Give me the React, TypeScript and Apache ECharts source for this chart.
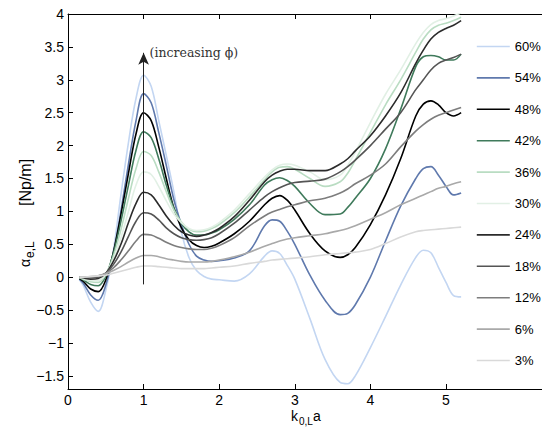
import React, { useEffect, useRef } from 'react';
import * as echarts from 'echarts';

// k_{0,L} a sample points
const kGrid = [0.15, 0.2, 0.3, 0.4, 0.5, 0.6, 0.7, 0.8, 0.9, 1.0, 1.1, 1.2, 1.3, 1.4, 1.5, 1.6, 1.7, 1.8, 1.9, 2.0, 2.2, 2.4, 2.6, 2.7, 2.8, 2.9, 3.0, 3.2, 3.4, 3.6, 3.7, 3.8, 4.0, 4.2, 4.4, 4.6, 4.7, 4.8, 4.9, 5.0, 5.1, 5.2];

const phiLabels = ['60%', '54%', '48%', '42%', '36%', '30%', '24%', '18%', '12%', '6%', '3%'];

const alpha60 = [-0.04, -0.12, -0.38, -0.52, -0.2, 0.4, 1.25, 2.05, 2.72, 3.07, 2.9, 2.38, 1.85, 1.3, 0.68, 0.3, 0.1, 0.01, -0.03, -0.04, -0.06, 0.05, 0.32, 0.4, 0.36, 0.18, -0.03, -0.63, -1.25, -1.6, -1.62, -1.5, -1.07, -0.6, -0.12, 0.3, 0.41, 0.37, 0.15, -0.08, -0.28, -0.3];
const alpha54 = [-0.03, -0.09, -0.27, -0.35, -0.12, 0.35, 1.0, 1.72, 2.38, 2.79, 2.65, 2.2, 1.7, 1.18, 0.8, 0.5, 0.32, 0.26, 0.24, 0.25, 0.29, 0.4, 0.78, 0.87, 0.85, 0.7, 0.5, 0.03, -0.35, -0.57, -0.55, -0.42, 0.0, 0.55, 1.08, 1.5, 1.65, 1.68, 1.55, 1.38, 1.25, 1.28];
const alpha48 = [-0.02, -0.06, -0.18, -0.22, -0.04, 0.38, 0.95, 1.58, 2.18, 2.5, 2.38, 1.98, 1.5, 1.05, 0.75, 0.57, 0.48, 0.45, 0.47, 0.52, 0.66, 0.85, 1.1, 1.2, 1.24, 1.17, 1.02, 0.66, 0.4, 0.3, 0.34, 0.45, 0.8, 1.25, 1.8, 2.45, 2.63, 2.68, 2.62, 2.5, 2.45, 2.5];
const alpha42 = [-0.01, -0.04, -0.11, -0.13, 0.02, 0.36, 0.85, 1.4, 1.93, 2.21, 2.12, 1.8, 1.4, 1.05, 0.82, 0.69, 0.64, 0.64, 0.67, 0.72, 0.88, 1.1, 1.4, 1.48, 1.51, 1.47, 1.38, 1.12, 0.95, 0.96, 1.06, 1.2, 1.5, 1.95, 2.55, 3.2, 3.35, 3.37, 3.35, 3.3, 3.3, 3.39];
const alpha36 = [-0.01, -0.03, -0.07, -0.08, 0.04, 0.32, 0.72, 1.2, 1.65, 1.91, 1.85, 1.6, 1.3, 1.02, 0.84, 0.73, 0.69, 0.7, 0.74, 0.8, 0.98, 1.22, 1.48, 1.6, 1.67, 1.68, 1.64, 1.5, 1.38, 1.45, 1.58, 1.78, 2.2, 2.62, 3.0, 3.42, 3.62, 3.76, 3.83, 3.86, 3.9, 3.95];
const alpha30 = [0.0, -0.02, -0.05, -0.05, 0.05, 0.27, 0.6, 1.0, 1.4, 1.6, 1.56, 1.38, 1.16, 0.96, 0.83, 0.74, 0.71, 0.72, 0.76, 0.83, 1.02, 1.27, 1.52, 1.63, 1.7, 1.72, 1.7, 1.6, 1.48, 1.55, 1.7, 1.9, 2.35, 2.78, 3.15, 3.55, 3.72, 3.84, 3.9, 3.93, 3.97, 4.02];
const alpha24 = [0.0, -0.01, -0.03, -0.02, 0.06, 0.24, 0.5, 0.83, 1.12, 1.29, 1.25, 1.1, 0.93, 0.79, 0.69, 0.64, 0.62, 0.64, 0.68, 0.74, 0.92, 1.17, 1.45, 1.55, 1.61, 1.64, 1.64, 1.62, 1.62, 1.72, 1.8, 1.92, 2.15, 2.45, 2.8, 3.25, 3.45, 3.62, 3.72, 3.78, 3.83, 3.9];
const alpha18 = [0.0, 0.0, -0.01, 0.0, 0.06, 0.19, 0.38, 0.62, 0.85, 0.98, 0.96, 0.87, 0.75, 0.66, 0.6, 0.57, 0.56, 0.57, 0.6, 0.66, 0.82, 1.02, 1.22, 1.3, 1.36, 1.41, 1.44, 1.46, 1.49, 1.6, 1.68, 1.78, 2.0, 2.25, 2.5, 2.85, 3.0, 3.15, 3.25, 3.3, 3.34, 3.39];
const alpha12 = [0.0, 0.0, 0.0, 0.02, 0.06, 0.14, 0.26, 0.4, 0.55, 0.65, 0.64, 0.59, 0.53, 0.48, 0.45, 0.43, 0.42, 0.42, 0.44, 0.48, 0.6, 0.78, 0.93, 0.99, 1.03, 1.07, 1.1, 1.16, 1.2, 1.28, 1.34, 1.42, 1.55, 1.72, 1.98, 2.22, 2.32, 2.4, 2.46, 2.5, 2.54, 2.58];
const alpha6 = [0.0, 0.0, 0.01, 0.02, 0.05, 0.1, 0.16, 0.23, 0.29, 0.33, 0.33, 0.31, 0.28, 0.26, 0.24, 0.23, 0.23, 0.23, 0.24, 0.26, 0.31, 0.38, 0.47, 0.51, 0.55, 0.58, 0.6, 0.63, 0.66, 0.71, 0.74, 0.78, 0.88, 0.98, 1.1, 1.2, 1.25, 1.3, 1.35, 1.38, 1.42, 1.45];
const alpha3 = [0.0, 0.0, 0.01, 0.02, 0.03, 0.06, 0.09, 0.12, 0.15, 0.17, 0.17, 0.16, 0.15, 0.14, 0.13, 0.13, 0.13, 0.13, 0.14, 0.15, 0.17, 0.21, 0.24, 0.26, 0.27, 0.28, 0.29, 0.31, 0.34, 0.36, 0.37, 0.38, 0.42, 0.51, 0.61, 0.69, 0.71, 0.72, 0.73, 0.74, 0.75, 0.76];

const xTicks = [0, 1, 2, 3, 4, 5];
const yTicks = [-1.5, -1, -0.5, 0, 0.5, 1, 1.5, 2, 2.5, 3, 3.5, 4];

const arrowFrom = [1, -0.11];
const arrowTo = [1, 3.41];

const lineColors = ['#c3d6f2', '#5f79ad', '#000000', '#3f7a5b', '#b9dcc2', '#e2f0e5', '#2b2b2b', '#555555', '#7d7d7d', '#a9a9a9', '#d9d9d9'];

const FONT = '"Liberation Sans", Arial, Helvetica, sans-serif';

export default function App() {
  const ref = useRef<HTMLDivElement>(null);

  useEffect(() => {
    const chart = echarts.init(ref.current!, null, { renderer: 'svg' });
    const allData = [alpha60, alpha54, alpha48, alpha42, alpha36, alpha30, alpha24, alpha18, alpha12, alpha6, alpha3];

    const series: any[] = phiLabels.map((name, i) => ({
      type: 'line',
      name,
      data: kGrid.map((k, j) => [k, allData[i][j]]),
      smooth: 0.35,
      symbol: 'none',
      lineStyle: { color: lineColors[i], width: 1.6 },
      itemStyle: { color: lineColors[i] },
      z: 3,
    }));

    series.push({
      type: 'line',
      name: 'arrow',
      data: [],
      symbol: 'none',
      markLine: {
        silent: true,
        symbol: ['none', 'arrow'],
        symbolSize: [8, 12],
        label: { show: false },
        lineStyle: { color: '#222', width: 1, type: 'solid' },
        data: [[{ coord: arrowFrom }, { coord: arrowTo }]],
      },
      z: 4,
    });

    const yFmt = (v: number) => (v < 0 ? '\u2212' + String(Math.abs(v)) : String(v));

    chart.setOption({
      animation: false,
      textStyle: { fontFamily: FONT },
      grid: { left: 68, top: 14, width: 529.2, height: 375, show: false },
      legend: {
        data: phiLabels,
        orient: 'vertical',
        left: 471,
        top: 35,
        itemGap: 18.4,
        itemWidth: 33,
        itemHeight: 14,
        selectedMode: false,
        itemStyle: { opacity: 0, borderWidth: 0 },
        lineStyle: { width: 1.6 },
        textStyle: { fontSize: 13, color: '#000', fontFamily: FONT },
      },
      xAxis: [
        {
          type: 'value',
          min: 0,
          max: 7,
          position: 'bottom',
          axisLine: { show: true, onZero: false, lineStyle: { color: '#000', width: 1 } },
          axisTick: { show: true, inside: true, length: 5, customValues: xTicks, lineStyle: { color: '#000' } },
          axisLabel: { customValues: xTicks, fontSize: 14, lineHeight: 14, color: '#000', margin: 4, fontFamily: FONT },
          splitLine: { show: false },
        },
        {
          type: 'value',
          min: 0,
          max: 7,
          position: 'top',
          axisLine: { show: true, onZero: false, lineStyle: { color: '#000', width: 1 } },
          axisTick: { show: true, inside: true, length: 5, customValues: xTicks, lineStyle: { color: '#000' } },
          axisLabel: { show: false },
          splitLine: { show: false },
        },
      ],
      yAxis: {
        type: 'value',
        min: -1.7,
        max: 4,
        axisLine: { show: true, onZero: false, lineStyle: { color: '#000', width: 1 } },
        axisTick: { show: true, inside: true, length: 5, customValues: yTicks, lineStyle: { color: '#000' } },
        axisLabel: { customValues: yTicks, fontSize: 14, color: '#000', margin: 4, formatter: yFmt, fontFamily: FONT },
        splitLine: { show: false },
      },
      series,
    });

    const tip = chart.convertToPixel({ gridIndex: 0 }, arrowTo as any) as number[];

    chart.setOption({
      graphic: [
        {
          type: 'text',
          left: tip[0] + 6,
          top: tip[1] - 7,
          style: { text: '(increasing \u03D5)', font: '12.5px "DejaVu Serif", "Liberation Serif", serif', fill: '#333' },
        },
        {
          type: 'group',
          x: 25,
          y: 211,
          rotation: Math.PI / 2,
          children: [
            { type: 'text', x: -56, y: 0, style: { text: '\u03B1', font: '14px ' + FONT, fill: '#000', textVerticalAlign: 'middle' } },
            { type: 'text', x: -47, y: 5, style: { text: 'e,L', font: '12px ' + FONT, fill: '#000', textVerticalAlign: 'middle' } },
            { type: 'text', x: 5, y: 0, style: { text: '[Np/m]', font: '16px ' + FONT, fill: '#000', textVerticalAlign: 'middle' } },
          ],
        },
        { type: 'text', x: 291, y: 409, style: { text: 'k', font: '14px ' + FONT, fill: '#000' } },
        { type: 'text', x: 299, y: 416, style: { text: '0,L', font: '10px ' + FONT, fill: '#000' } },
        { type: 'text', x: 313, y: 409, style: { text: 'a', font: '14px ' + FONT, fill: '#000' } },
      ],
    });

    return () => chart.dispose();
  }, []);

  return (
    <div style={{ position: 'fixed', left: 0, top: 0, width: 542, height: 428, overflow: 'hidden', background: '#fff' }}>
      <div ref={ref} style={{ width: 640, height: 428 }} />
    </div>
  );
}
